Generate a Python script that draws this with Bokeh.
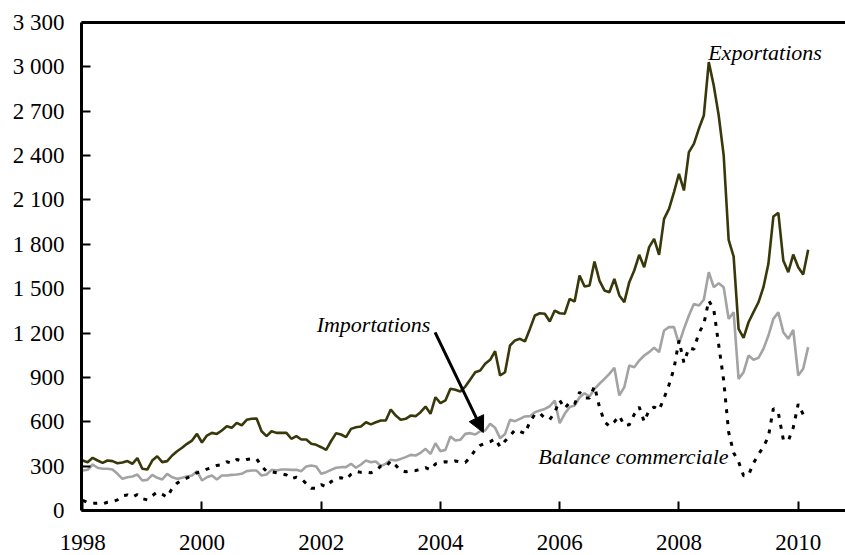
from bokeh.plotting import figure
from bokeh.models import FixedTicker, LinearAxis, Range1d, Arrow, NormalHead, ColumnDataSource
from bokeh.core.properties import value
from bokeh.embed import file_html
from bokeh.resources import INLINE

# Monthly data, Jan 1998 .. Mar 2010
start_year = 1998
exportations = [
    338, 327, 356, 338, 322, 338, 334, 320, 325, 334, 316, 354,
    282, 277, 338, 367, 327, 334, 372, 401, 424, 451, 473, 518,
    460, 507, 525, 518, 541, 570, 559, 593, 575, 613, 620, 622,
    536, 503, 536, 525, 525, 525, 485, 503, 480, 480, 451, 444,
    428, 410, 470, 523, 514, 496, 552, 563, 568, 597, 582, 597,
    609, 609, 683, 642, 613, 620, 642, 638, 665, 703, 654, 766,
    726, 744, 823, 816, 805, 838, 886, 935, 947, 992, 1019, 1077,
    913, 935, 1116, 1150, 1161, 1143, 1228, 1319, 1334, 1330, 1278, 1352,
    1334, 1330, 1431, 1413, 1589, 1515, 1521, 1684, 1555, 1488, 1476, 1566,
    1454, 1409, 1544, 1623, 1729, 1645, 1781, 1837, 1729, 1972, 2040, 2153,
    2277, 2164, 2423, 2479, 2581, 2671, 3032, 2874, 2671, 2401, 1830, 1718,
    1228, 1168, 1273, 1341, 1408, 1510, 1668, 1988, 2013, 1690, 1612, 1731,
    1645, 1596, 1763,
]
importations = [
    270, 275, 311, 289, 282, 282, 277, 248, 214, 225, 230, 243,
    203, 207, 241, 221, 210, 248, 225, 214, 221, 230, 237, 266,
    203, 225, 237, 210, 237, 237, 241, 243, 248, 266, 270, 270,
    237, 243, 275, 270, 277, 277, 275, 275, 266, 298, 304, 298,
    248, 259, 275, 289, 293, 293, 316, 289, 311, 338, 327, 331,
    300, 316, 343, 338, 349, 361, 376, 372, 390, 417, 383, 455,
    401, 410, 500, 473, 478, 518, 523, 514, 536, 541, 586, 559,
    489, 518, 613, 604, 620, 636, 638, 665, 676, 687, 705, 744,
    590, 654, 699, 710, 766, 793, 771, 823, 857, 890, 924, 965,
    778, 834, 980, 969, 1014, 1048, 1071, 1100, 1071, 1217, 1240, 1240,
    1127, 1228, 1319, 1397, 1386, 1425, 1612, 1510, 1537, 1510, 1296, 1341,
    890, 935, 1048, 1019, 1032, 1093, 1183, 1296, 1341, 1206, 1161, 1222,
    913, 958, 1105,
]
balance = [
    68, 55, 48, 50, 45, 56, 60, 72, 100, 105, 90, 108,
    80, 72, 100, 125, 110, 90, 150, 185, 205, 220, 240, 255,
    262, 280, 290, 305, 310, 330, 320, 345, 335, 345, 350, 350,
    300, 265, 262, 255, 248, 240, 215, 225, 214, 182, 150, 150,
    175, 160, 195, 215, 222, 210, 245, 265, 258, 260, 255, 270,
    300, 295, 335, 305, 270, 262, 268, 270, 278, 290, 275, 315,
    325, 330, 325, 335, 330, 325, 360, 410, 440, 455, 465, 485,
    430, 470, 505, 545, 535, 520, 600, 650, 658, 625, 615, 665,
    745, 690, 730, 720, 800, 760, 760, 840, 700, 600, 570, 600,
    640, 575, 580, 650, 700, 600, 680, 700, 680, 760, 850, 960,
    1150, 1000, 1100, 1090, 1200, 1260, 1420, 1360, 1120, 880, 530, 390,
    330, 235, 240, 320, 380, 430, 500, 690, 660, 480, 470, 560,
    720, 650, 660,
]
x_ticks = [1998, 2000, 2002, 2004, 2006, 2008, 2010]
x_tick_labels = ["1998", "2000", "2002", "2004", "2006", "2008", "2010"]
y_ticks = [0, 300, 600, 900, 1200, 1500, 1800, 2100, 2400, 2700, 3000, 3300]
y_tick_labels = ["0", "300", "600", "900", "1 200", "1 500", "1 800", "2 100",
                 "2 400", "2 700", "3 000", "3 300"]

t = [start_year + i / 12 for i in range(len(exportations))]
src = ColumnDataSource(dict(t=t, exp=exportations, imp=importations, bal=balance))

FONT = "Liberation Serif"

p = figure(width=845, height=555, output_backend="svg", toolbar_location=None,
           x_range=Range1d(1997.98, 2010.793), y_range=Range1d(0, 3300),
           min_border_left=81, min_border_top=22, min_border_right=0, min_border_bottom=45,
           background_fill_color="white", border_fill_color="white")
p.outline_line_color = None
p.xgrid.visible = False
p.ygrid.visible = False

for ax in (p.xaxis[0], p.yaxis[0]):
    ax.axis_line_width = 3
    ax.axis_line_color = "black"
    ax.major_tick_line_width = 2
    ax.major_tick_line_color = "black"
    ax.major_tick_out = 0
    ax.major_tick_in = 9
    ax.minor_tick_line_color = None
    ax.major_label_text_font = FONT
    ax.major_label_text_font_size = "23px"
    ax.major_label_text_color = "black"

p.xaxis[0].ticker = FixedTicker(ticks=x_ticks)
p.xaxis[0].major_label_overrides = {k: v for k, v in zip(x_ticks, x_tick_labels)}
p.xaxis[0].major_label_standoff = 24
p.yaxis[0].ticker = FixedTicker(ticks=y_ticks)
p.yaxis[0].major_label_overrides = {k: v for k, v in zip(y_ticks, y_tick_labels)}
p.yaxis[0].major_label_standoff = 17

top = LinearAxis(ticker=FixedTicker(ticks=[]), axis_line_width=3, axis_line_color="black",
                 major_tick_line_color=None, minor_tick_line_color=None,
                 major_label_text_font_size="0px", major_label_standoff=0)
p.add_layout(top, "above")

p.line("t", "exp", source=src, line_color="#38380a", line_width=2.6)
p.line("t", "imp", source=src, line_color="#a3a3a3", line_width=2.6)
p.line("t", "bal", source=src, line_color="black", line_width=3, line_dash="4 7")

p.text(x=[2008.49], y=[3100], text=["Exportations"], text_font=value(FONT),
       text_font_style="italic", text_font_size="22px", text_align="left",
       text_baseline="alphabetic", text_color="black")
p.text(x=[2003.83], y=[1257], text=["Importations"], text_font=value(FONT),
       text_font_style="italic", text_font_size="22px", text_align="right",
       text_baseline="alphabetic", text_color="black")
p.text(x=[2005.64], y=[366], text=["Balance commerciale"], text_font=value(FONT),
       text_font_style="italic", text_font_size="22px", text_align="left",
       text_baseline="alphabetic", text_color="black")

p.add_layout(Arrow(end=NormalHead(size=16, fill_color="black", line_color="black"),
                   x_start=2003.91, y_start=1204, x_end=2004.72, y_end=527,
                   line_width=3, line_color="black"))

open("out.html", "w").write(file_html(p, INLINE))
